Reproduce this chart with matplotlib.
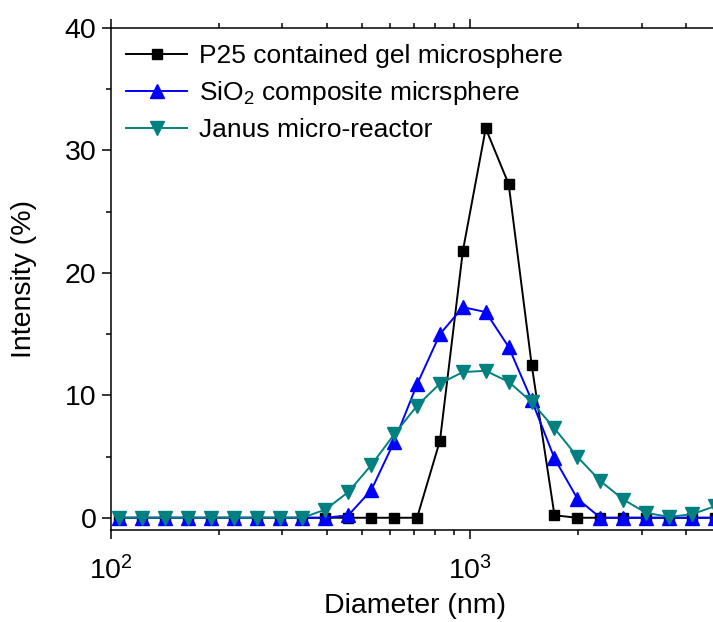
import matplotlib
matplotlib.use("Agg")
import matplotlib.pyplot as plt
from matplotlib.ticker import FixedLocator, LogLocator, NullFormatter, MultipleLocator

plt.rcParams['font.family'] = ['Liberation Sans', 'DejaVu Sans']
plt.rcParams['mathtext.fontset'] = 'custom'
plt.rcParams['mathtext.rm'] = 'Liberation Sans'
plt.rcParams['mathtext.it'] = 'Liberation Sans:italic'
plt.rcParams['mathtext.bf'] = 'Liberation Sans:bold'

diameter = [105.7, 122.4, 141.8, 164.2, 190.1, 220.2, 255.0, 295.3, 342.0, 396.1,
            458.7, 531.2, 615.1, 712.4, 825.0, 955.4, 1106, 1281, 1484, 1718,
            1990, 2305, 2669, 3091, 3580, 4145, 4801]
p25_gel = [0, 0, 0, 0, 0, 0, 0, 0, 0, 0, 0, 0, 0, 0,
           6.3, 21.8, 31.8, 27.25, 12.5, 0.2, 0, 0, 0, 0, 0, 0, 0]
sio2_comp = [0, 0, 0, 0, 0, 0, 0, 0, 0, 0,
             0.2, 2.25, 6.2, 10.9, 15.0, 17.2, 16.8, 13.95, 9.6, 4.85, 1.55,
             0, 0, 0, 0, 0, 0]
janus = [0, 0, 0, 0, 0, 0, 0, 0, 0,
         0.67, 2.1, 4.3, 6.8, 9.15, 10.96, 11.9, 12.0, 11.1, 9.45, 7.3, 4.97,
         3.0, 1.49, 0.4, 0.07, 0.29, 0.94]

labels = ['P25 contained gel microsphere',
          r'SiO$_\mathregular{2}$ composite micrsphere',
          'Janus micro-reactor']

W, H = 713, 622
fig = plt.figure(figsize=(W / 100, H / 100), dpi=100)
ax = fig.add_axes([110.5 / W, (H - 530) / H, (720 - 110.5) / W, (530 - 28) / H])

ax.plot(diameter, p25_gel, color='black', marker='s', markersize=7.7, lw=1.4,
        label=labels[0])
ax.plot(diameter, sio2_comp, color='#0000FF', marker='^', markersize=10, lw=1.4,
        label=labels[1])
ax.plot(diameter, janus, color='#008080', marker='v', markersize=10, lw=1.4,
        label=labels[2])

ax.set_xscale('log')
ax.set_xlim(100, 4959)
ax.set_ylim(-1, 40)

ax.xaxis.set_major_locator(FixedLocator([100, 1000]))
ax.set_xticklabels([r'$\mathregular{10^{2}}$', r'$\mathregular{10^{3}}$'])
ax.xaxis.set_minor_locator(LogLocator(base=10, subs=range(2, 10)))
ax.xaxis.set_minor_formatter(NullFormatter())
ax.yaxis.set_major_locator(MultipleLocator(10))
ax.yaxis.set_minor_locator(MultipleLocator(5))

ax.tick_params(which='both', direction='out', labelsize=20.5, width=1.1)
ax.tick_params(which='major', length=6.5)
ax.tick_params(which='minor', length=3.3)
ax.tick_params(axis='x', which='both', top=True, labeltop=False)
ax.tick_params(axis='x', which='major', pad=12)

for s in ax.spines.values():
    s.set_linewidth(1.1)
ax.spines['right'].set_visible(False)

ax.set_xlabel('Diameter (nm)', fontsize=20.5, labelpad=6)
ax.set_ylabel('Intensity (%)', fontsize=20.5, labelpad=20)

ax.legend(loc='upper left', frameon=False, fontsize=19, handlelength=2.3,
          handletextpad=0.45, borderaxespad=0.2, labelspacing=0.42,
          bbox_to_anchor=(0.0, 1.0))

fig.savefig('out.png', dpi=100)
